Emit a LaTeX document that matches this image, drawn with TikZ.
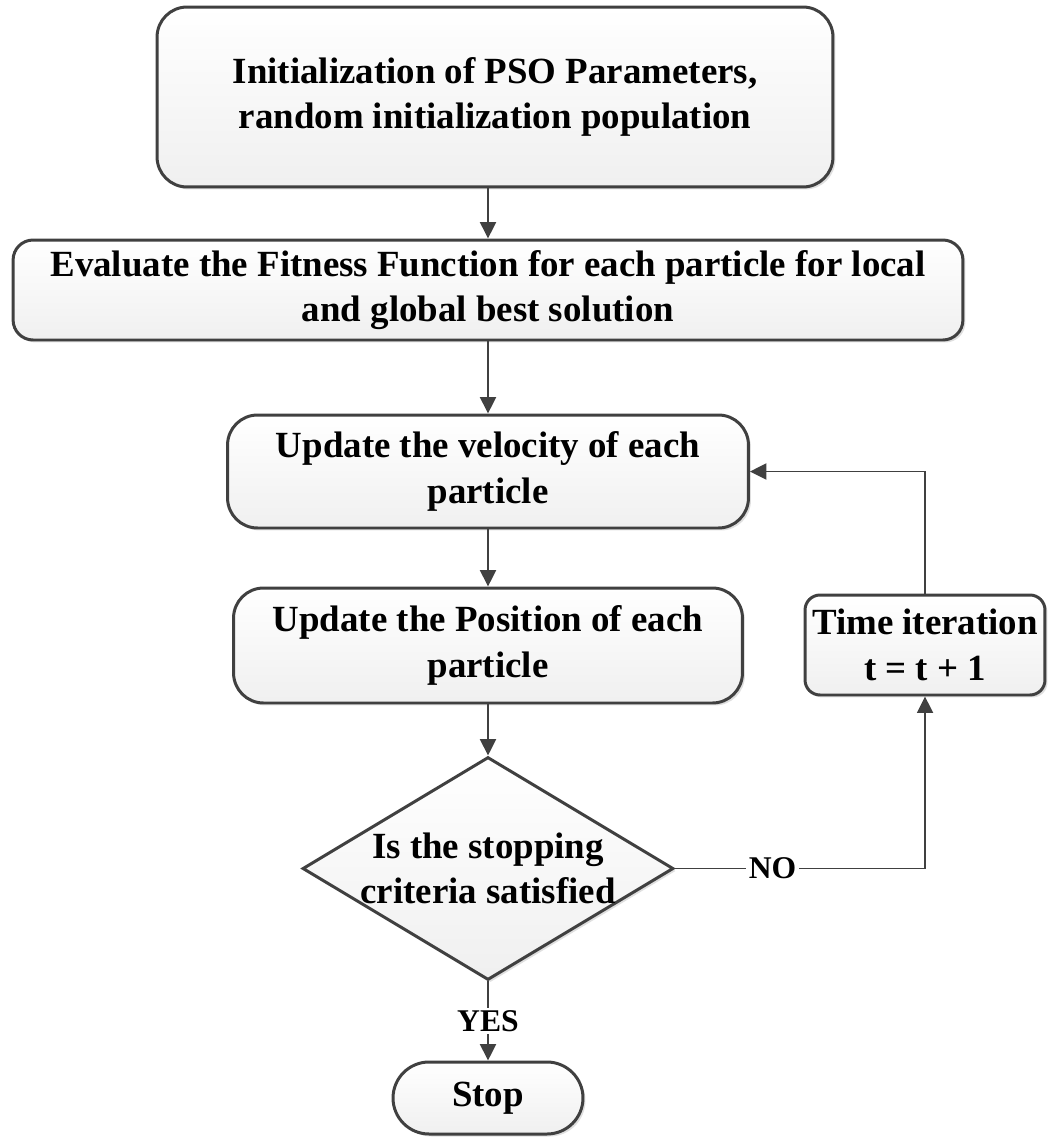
\documentclass[tikz,border=0pt]{standalone}
\usepackage{fontspec}
\setmainfont{Liberation Serif}
\usetikzlibrary{arrows.meta,shapes.geometric,shadows}
\definecolor{linegray}{HTML}{404040}

\begin{document}
\begin{tikzpicture}[x=0.02cm, y=-0.02cm,
	box/.style={draw=linegray, line width=1.7pt, rounded corners=0.6cm, top color=white, bottom color=black!6, drop shadow={shadow xshift=0.05cm, shadow yshift=-0.05cm, fill=black!25}, align=center, inner sep=0pt, font=\bfseries\fontsize{21}{26}\selectfont},
	decision/.style={box, diamond, sharp corners, minimum width=7.42cm, minimum height=4.46cm},
	flow/.style={draw=linegray, line width=1.1pt, -{Triangle[length=0.33cm, width=0.32cm]}},
	tag/.style={fill=white, inner sep=1.5pt, font=\bfseries\fontsize{18}{21}\selectfont}]
	\useasboundingbox (0,0) rectangle (1049,1139);
	\node[box, minimum width=13.52cm, minimum height=3.6cm] (init) at (495,97) {Initialization of PSO Parameters,\\random initialization population};
	\node[box, rounded corners=0.4cm, minimum width=19cm, minimum height=2cm] (eval) at (488,290) {Evaluate the Fitness Function for each particle for local\\and global best solution};
	\node[box, minimum width=10.42cm, minimum height=2.26cm] (vel) at (488,471.5) {Update the velocity of each\\particle};
	\node[box, minimum width=10.18cm, minimum height=2.3cm] (pos) at (488,645.5) {Update the Position of each\\particle};
	\node[box, rounded corners=0.3cm, minimum width=4.8cm, minimum height=2cm] (iter) at (925,645) {Time iteration\\t = t + 1};
	\node[decision] (check) at (488,868.5) {};
	\node[align=center, font=\bfseries\fontsize{21}{26}\selectfont] (checktext) at (check.center) {Is the stopping\\criteria satisfied};
	\node[box, rounded corners=0.72cm, minimum width=3.8cm, minimum height=1.44cm] (stop) at (488,1098) {Stop};
	\draw[flow] (init.south -| eval.north) -- (eval.north);
	\draw[flow] (eval) -- (vel);
	\draw[flow] (vel) -- (pos);
	\draw[flow] (pos) -- (check);
	\draw[flow] (check) -- node[tag] {YES} (stop);
	\draw[flow] (check.east) -- node[tag, pos=0.39] {NO} (check.east -| iter.south) -- (iter.south);
	\draw[flow] (iter.north) |- (vel.east);
\end{tikzpicture}
\end{document}
